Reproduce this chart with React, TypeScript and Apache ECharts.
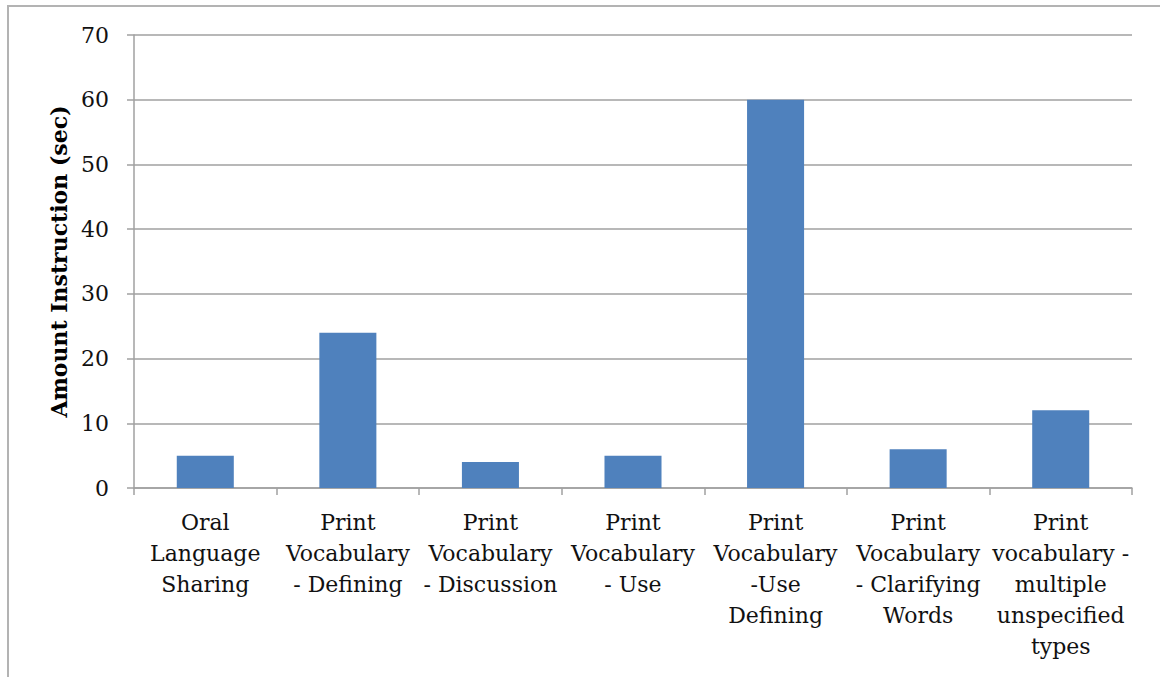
import React, { useEffect, useRef } from "react";
import * as echarts from "echarts";

const categories = [
  "Oral\nLanguage\nSharing",
  "Print\nVocabulary\n- Defining",
  "Print\nVocabulary\n- Discussion",
  "Print\nVocabulary\n- Use",
  "Print\nVocabulary\n-Use\nDefining",
  "Print\nVocabulary\n- Clarifying\nWords",
  "Print\nvocabulary -\nmultiple\nunspecified\ntypes",
];
const values = [5, 24, 4, 5, 60, 6, 12];
const yAxisTitle = "Amount Instruction (sec)";

export default function App() {
  const ref = useRef<HTMLDivElement>(null);
  useEffect(() => {
    if (!ref.current) return;
    const chart = echarts.init(ref.current, null, { renderer: "svg" });
    const font = "'DejaVu Serif', serif";
    chart.setOption({
      animation: false,
      backgroundColor: "#ffffff",
      graphic: [
        {
          type: "rect",
          shape: { x: 8, y: 6, width: 1200, height: 720 },
          style: { fill: "none", stroke: "#b3b3b3", lineWidth: 2 },
          silent: true,
        },
      ],
      grid: { left: 134, top: 35, right: 28, bottom: 189 },
      xAxis: {
        type: "category",
        data: categories,
        axisLine: { lineStyle: { color: "#a0a0a0", width: 1.5 } },
        axisTick: { show: true, length: 7, lineStyle: { color: "#a0a0a0", width: 1.5 } },
        axisLabel: {
          interval: 0,
          margin: 19,
          color: "#111",
          fontFamily: font,
          fontSize: 22,
          lineHeight: 31,
          align: "center",
        },
      },
      yAxis: {
        type: "value",
        min: 0,
        max: 70,
        interval: 10,
        name: yAxisTitle,
        nameLocation: "middle",
        nameGap: 63,
        nameTextStyle: { fontFamily: font, fontSize: 22, fontWeight: "bold", color: "#000" },
        axisLine: { show: true, lineStyle: { color: "#a0a0a0", width: 1.5 } },
        axisTick: { show: true, length: 7, lineStyle: { color: "#a0a0a0", width: 1.5 } },
        axisLabel: { margin: 25, color: "#111", fontFamily: font, fontSize: 22 },
        splitLine: { lineStyle: { color: "#a0a0a0", width: 1.5 } },
      },
      series: [
        {
          type: "bar",
          data: values,
          barWidth: "40%",
          itemStyle: { color: "#4F81BD" },
        },
      ],
    });
    return () => chart.dispose();
  }, []);
  return (
    <div
      ref={ref}
      style={{ position: "absolute", left: 0, top: 0, width: 1160, height: 677 }}
    />
  );
}
